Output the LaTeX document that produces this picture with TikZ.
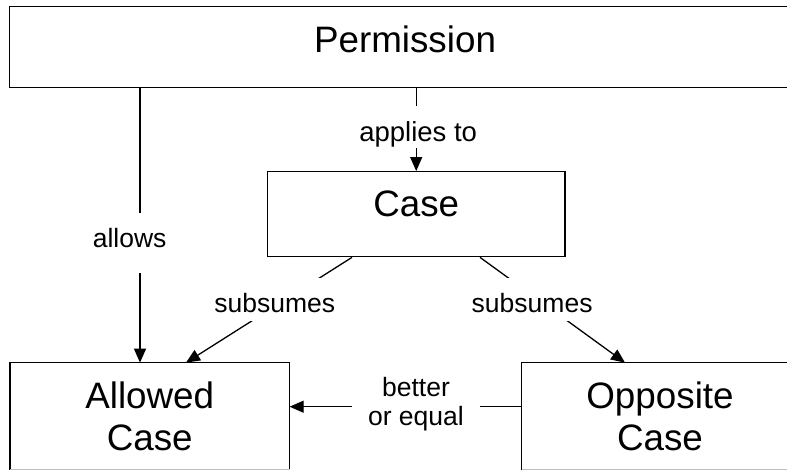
\documentclass[tikz,border=0pt]{standalone}
\usepackage{fontspec}
\setmainfont{Liberation Sans}
\usetikzlibrary{arrows.meta}
\tikzset{
  box/.style={line width=1.3pt, inner sep=0pt, anchor=base,
    font=\fontsize{36.8}{42}\selectfont},
  outline/.style={line width=1.3pt, line join=miter},
  lab/.style={fill=white, inner sep=0pt, inner xsep=3pt, anchor=base,
    font=\fontsize{26.5}{28.3}\selectfont},
  arr/.style={line width=1.3pt, -{Triangle[length=14pt,width=12pt]}}
}
\begin{document}
\begin{tikzpicture}[x=1pt,y=-1pt]
\useasboundingbox (0,0) rectangle (787,469);
\fill[white] (0,0) rectangle (787,469);
\clip (0,0) rectangle (787,469);
% boxes (the right and bottom edges lie outside the picture)
\node[box, minimum width=790pt, text height=45.5pt, text depth=34.5pt] (perm) at (405,52.3) {Permission};
\node[box, draw, minimum width=297.7pt, text height=44.9pt, text depth=40.1pt] (case) at (416.2,216.6) {Case};
\node[box, minimum width=278.5pt, text height=86.7pt, text depth=19.6pt] (allowed) at (149.75,450)
  {\begin{tabular}[b]{@{}c@{}}Allowed\\Case\end{tabular}};
\node[box, minimum width=275.4pt, text height=86.7pt, text depth=19.6pt] (opp) at (660,450)
  {\begin{tabular}[b]{@{}c@{}}Opposite\\Case\end{tabular}};
\draw[outline] (perm.north east) -- (perm.north west) -- (perm.south west) -- (perm.south east);
\draw[outline] (allowed.south west) -- (allowed.north west) -- (allowed.north east) -- (allowed.south east);
\draw[outline] (opp.south west) -- (opp.north west) -- (opp.north east);
\draw[black!25, line width=1pt] (allowed.south west) ++(0,-0.6) -- ([yshift=0.6pt]allowed.south east);
\draw[black!25, line width=1pt] ([yshift=0.6pt]opp.south west) -- ([yshift=0.6pt]opp.south east);
% connectors
\draw[arr] (perm.south -| 140,0) -- node[lab, pos=0.5827, xshift=-10.3pt, text height=35pt, text depth=25pt] (lallows) {allows} (allowed.north -| 140,0);
\draw[arr] (perm.south -| case.north) -- node[lab, pos=0.650, xshift=2pt, text height=35.3pt, text depth=6pt, font=\fontsize{27.5}{29}\selectfont] (lapplies) {applies to} (case.north);
\draw[arr] (case.south -| 352,0) -- node[lab, pos=0.525, xshift=10pt, text height=34.7pt, text depth=8.3pt] (lsubl) {subsumes} (allowed.north -| 186,0);
\draw[arr] (case.south -| 480,0) -- node[lab, pos=0.525, xshift=-24pt, text height=34.7pt, text depth=8.3pt] (lsubr) {subsumes} (opp.north -| 625,0);
\draw[arr] (opp.west |- 0,406.7) -- node[lab, pos=0.4556, yshift=-18.3pt, minimum width=128.3pt, inner xsep=0pt] (lbetter)
  {\begin{tabular}[b]{@{}c@{}}better\\or equal\end{tabular}} (allowed.east |- 0,406.7);
\end{tikzpicture}
\end{document}
